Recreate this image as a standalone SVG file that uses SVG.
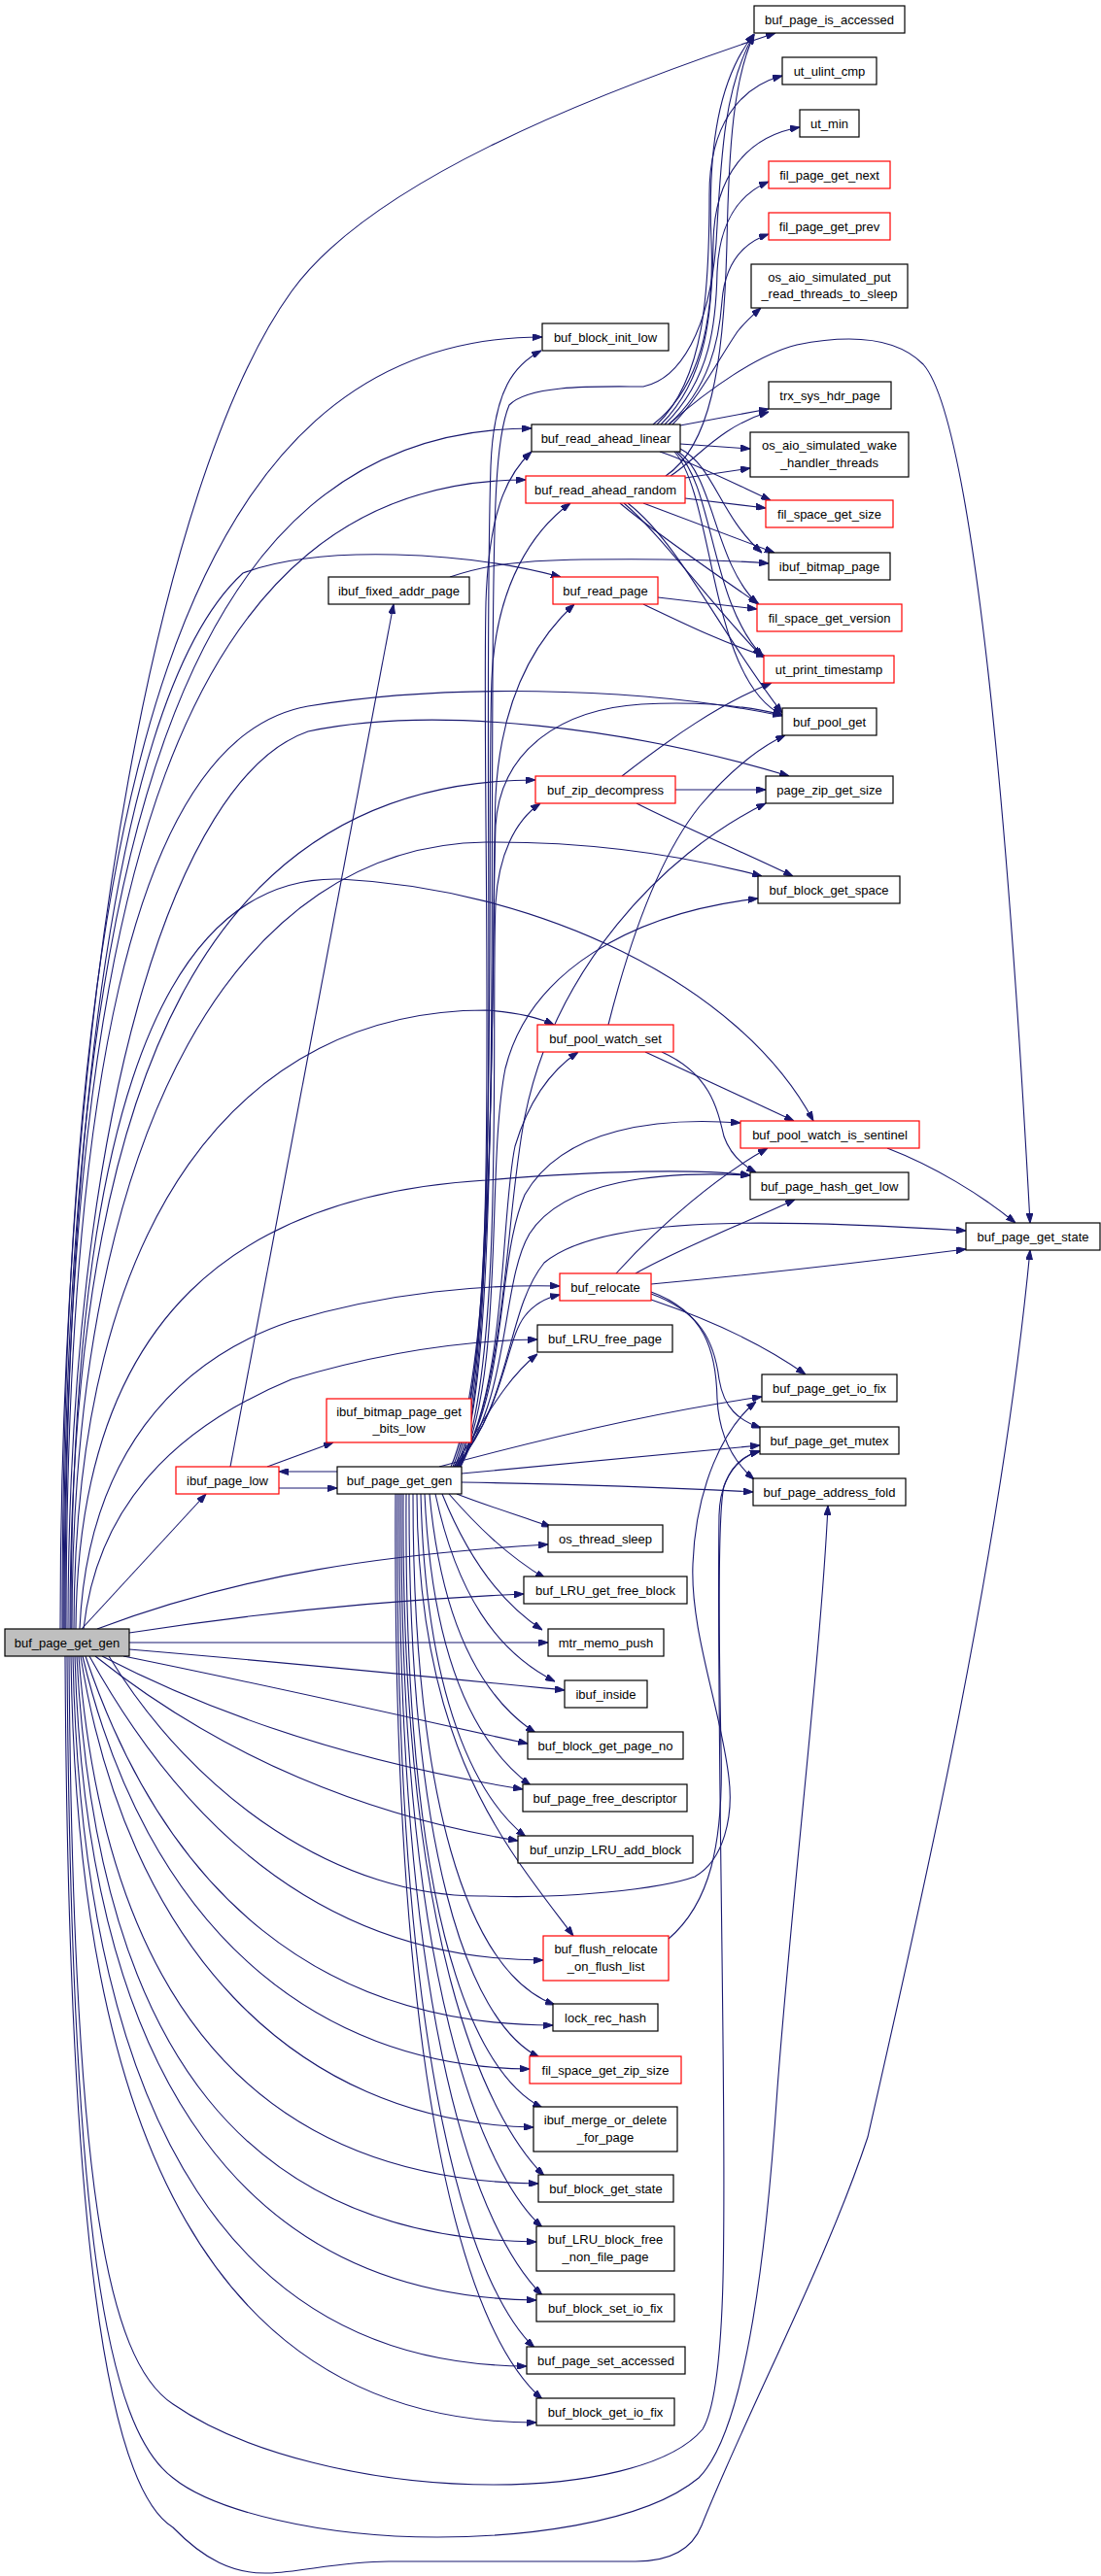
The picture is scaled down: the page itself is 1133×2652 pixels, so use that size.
<svg xmlns="http://www.w3.org/2000/svg" width="1133" height="2652" viewBox="0 0 1133 2652">
<style>
.n rect{fill:#fff;stroke:#000;stroke-width:1.2}
.r rect{fill:#fff;stroke:#f00;stroke-width:1.2}
.f rect{fill:#bfbfbf;stroke:#000;stroke-width:1.2}
text{font-family:"Liberation Sans",Arial,Helvetica,sans-serif;font-size:13px;text-anchor:middle;fill:#000}
#edges path{fill:none;stroke:#191970;stroke-width:1.1;marker-end:url(#ah)}
</style>
<defs>
<marker id="ah" viewBox="0 0 10 7" refX="10" refY="3.5" markerWidth="10" markerHeight="7" orient="auto" markerUnits="userSpaceOnUse">
<path d="M0,0 L10,3.5 L0,7 Z" fill="#191970" stroke="#191970" stroke-width="1"/>
</marker>
</defs>
<rect width="1133" height="2652" fill="#fff"/>
<g id="edges">
<path d="M62,1677 C62,1000 170,480 300,300 C380,189 600,100 798,34"/>
<path d="M64,1677 C64,812 188,347 558,347"/>
<path d="M65,1677 C65,874 186,441 547,441"/>
<path d="M66,1677 C66,908 185,494 541,494"/>
<path d="M67,1677 C67,1100 130,700 250,590 C330,560 480,568 577,594"/>
<path d="M68,1677 C68,1150 130,760 317,727 C450,705 650,705 805,737"/>
<path d="M70,1677 C70,1150 180,800 317,753 C450,725 650,750 812,799"/>
<path d="M72,1677 C72,1100 220,803 551,803"/>
<path d="M74,1677 C74,1150 250,870 500,867 C620,866 720,885 784,902"/>
<path d="M76,1677 C76,1250 250,1040 500,1040 C530,1042 555,1048 570,1055"/>
<path d="M73,1677 C73,1200 150,900 350,905 C550,915 760,1010 837,1154"/>
<path d="M78,1677 C80,1350 250,1230 500,1215 C620,1205 720,1203 772,1210"/>
<path d="M82,1677 C90,1500 180,1400 300,1360 C400,1330 500,1322 576,1324"/>
<path d="M86,1677 C100,1550 180,1470 300,1420 C400,1390 480,1380 553,1379"/>
<path d="M100,1677 C250,1620 400,1600 564,1590"/>
<path d="M84,1677 L212,1538"/>
<path d="M133,1681 C300,1655 450,1645 539,1641"/>
<path d="M133,1691 L564,1691"/>
<path d="M133,1698 C300,1712 480,1730 581,1740"/>
<path d="M127,1705 C300,1740 450,1775 543,1795"/>
<path d="M105,1705 C250,1780 400,1820 538,1842"/>
<path d="M98,1705 C230,1810 380,1870 533,1895"/>
<path d="M92,1705 C200,1900 350,2018 559,2018"/>
<path d="M88,1705 C170,1950 330,2085 569,2085"/>
<path d="M85,1705 C150,1980 320,2128 545,2130"/>
<path d="M83,1705 C130,2000 300,2185 549,2190"/>
<path d="M81,1705 C110,2080 280,2245 554,2248"/>
<path d="M79,1705 C100,2120 260,2305 552,2308"/>
<path d="M77,1705 C90,2150 260,2365 552,2368"/>
<path d="M75,1705 C85,2200 250,2435 542,2436"/>
<path d="M73,1705 C80,2250 250,2495 552,2494"/>
<path d="M112,1705 C200,1850 350,1955 500,1952 C580,1955 680,1945 715,1932 C745,1915 755,1870 750,1830 C742,1760 710,1680 713,1610 C716,1530 745,1470 778,1443"/>
<path d="M71,1705 C75,2250 110,2430 178,2475 C250,2525 380,2558 508,2558 C600,2558 690,2540 723,2501 C748,2460 746,2300 744,2100 C742,1900 738,1700 740,1560 C741,1520 760,1500 782,1494"/>
<path d="M69,1705 C73,2300 110,2500 178,2551 C220,2585 330,2612 450,2612 C530,2612 660,2600 719,2551 C770,2500 790,2300 800,2150 C815,1950 845,1700 852,1550"/>
<path d="M67,1705 C70,2300 110,2560 178,2602 C210,2635 240,2650 276,2649 C310,2648 350,2637 400,2637 L654,2637 C690,2637 712,2625 722,2600 C770,2480 850,2330 893,2200 C950,1950 1030,1600 1060,1287"/>
<path d="M470,1510 C512,1450 505,1000 507,700 C508,520 510,450 524,417 C545,395 620,398 662,398 C700,390 730,340 737,250 C742,160 745,90 776,35"/>
<path d="M472,1510 C520,1400 495,800 505,480 C508,400 530,375 557,361"/>
<path d="M470,1510 C518,1400 495,850 500,620 C503,530 520,490 547,465"/>
<path d="M468,1510 C516,1400 500,850 506,700 C510,600 550,545 587,518"/>
<path d="M466,1510 C514,1400 505,950 510,820 C515,720 550,660 591,622"/>
<path d="M464,1510 C512,1400 505,1000 510,850 C515,770 580,730 660,725 C720,722 770,727 805,736"/>
<path d="M474,1510 C520,1400 505,1050 510,930 C513,880 530,845 556,827"/>
<path d="M474,1510 C522,1420 520,1250 540,1150 C570,1000 680,880 788,827"/>
<path d="M473,1510 C520,1420 500,1200 520,1100 C545,1000 650,940 780,925"/>
<path d="M472,1510 C522,1430 515,1250 530,1180 C545,1130 570,1100 595,1083"/>
<path d="M471,1510 C524,1430 510,1300 540,1230 C580,1160 680,1150 762,1156"/>
<path d="M470,1510 C526,1440 515,1320 545,1270 C580,1215 680,1205 772,1210"/>
<path d="M469,1510 C528,1440 520,1350 560,1300 C620,1250 800,1255 994,1267"/>
<path d="M468,1510 C520,1450 520,1380 540,1355 C550,1342 562,1336 576,1333"/>
<path d="M467,1510 C500,1460 520,1420 553,1394"/>
<path d="M452,1510 C600,1470 700,1450 784,1438"/>
<path d="M475,1517 C600,1505 700,1495 782,1488"/>
<path d="M475,1526 C600,1528 700,1532 775,1536"/>
<path d="M347,1515 L287,1515"/>
<path d="M470,1538 C500,1550 540,1562 567,1572"/>
<path d="M462,1538 C490,1570 520,1600 561,1625"/>
<path d="M455,1538 C480,1600 515,1650 558,1678"/>
<path d="M448,1538 C470,1640 510,1700 571,1731"/>
<path d="M442,1538 C455,1680 500,1750 551,1784"/>
<path d="M437,1538 C445,1720 495,1800 546,1838"/>
<path d="M433,1538 C438,1750 490,1850 541,1891"/>
<path d="M429,1538 C430,1800 520,1900 590,1993"/>
<path d="M425,1538 C425,1850 480,2030 571,2064"/>
<path d="M421,1538 C420,1900 480,2080 555,2118"/>
<path d="M418,1538 C415,1950 480,2130 558,2170"/>
<path d="M415,1538 C412,2000 500,2180 560,2240"/>
<path d="M413,1538 C410,2050 500,2240 558,2293"/>
<path d="M411,1538 C408,2100 495,2300 558,2363"/>
<path d="M409,1538 C405,2150 490,2360 550,2417"/>
<path d="M407,1538 C403,2200 490,2410 558,2470"/>
<path d="M672,437 C720,400 735,330 732,250 C728,150 740,80 776,35"/>
<path d="M676,437 C725,390 730,300 730,200 C730,130 760,90 805,78"/>
<path d="M680,437 C728,390 733,320 734,250 C735,180 770,140 823,131"/>
<path d="M684,437 C732,390 737,330 738,280 C740,230 760,200 791,187"/>
<path d="M688,437 C730,400 740,350 743,310 C746,270 765,250 791,241"/>
<path d="M692,437 C720,410 745,360 760,340 C768,330 775,324 783,317"/>
<path d="M700,438 L791,421"/>
<path d="M700,457 L772,462"/>
<path d="M679,465 C710,475 750,495 793,515"/>
<path d="M700,462 C735,480 740,530 784,569"/>
<path d="M698,465 C735,490 735,580 780,622"/>
<path d="M696,465 C735,500 730,620 786,677"/>
<path d="M694,465 C735,510 730,700 805,736"/>
<path d="M688,437 C730,400 780,365 820,355 C870,345 920,345 950,375 C990,420 1030,700 1060,1259"/>
<path d="M685,490 C730,460 745,380 748,250 C750,150 755,80 776,36"/>
<path d="M690,490 C720,470 740,440 791,424"/>
<path d="M705,492 L772,482"/>
<path d="M705,513 L788,523"/>
<path d="M662,518 L797,569"/>
<path d="M638,518 C670,545 720,580 781,622"/>
<path d="M642,518 C680,550 730,620 784,676"/>
<path d="M646,518 C700,560 740,650 805,734"/>
<path d="M677,615 L779,627"/>
<path d="M662,622 C700,640 740,660 788,676"/>
<path d="M640,799 C690,760 740,725 794,703"/>
<path d="M695,813 L788,813"/>
<path d="M655,827 C700,850 760,875 816,902"/>
<path d="M463,594 C490,585 520,577 600,576 C680,575 740,576 791,580"/>
<path d="M626,1055 C650,960 680,880 720,830 C750,795 780,770 808,757"/>
<path d="M664,1083 L817,1154"/>
<path d="M681,1083 C730,1105 738,1140 745,1170 C752,1190 765,1200 778,1207"/>
<path d="M913,1182 C960,1200 1010,1230 1045,1259"/>
<path d="M634,1311 C680,1260 740,1210 790,1182"/>
<path d="M654,1311 C700,1285 760,1262 818,1235"/>
<path d="M670,1322 C800,1310 900,1298 994,1286"/>
<path d="M670,1338 C720,1355 780,1380 829,1415"/>
<path d="M670,1332 C720,1350 735,1380 740,1420 C745,1450 760,1462 783,1470"/>
<path d="M670,1330 C725,1350 737,1390 738,1440 C740,1480 755,1505 776,1523"/>
<path d="M287,1532 L347,1532"/>
<path d="M275,1510 L343,1485"/>
<path d="M237,1510 L405,622"/>
<path d="M688,1996 C730,1960 745,1900 742,1800 C740,1700 738,1560 745,1530 C752,1510 765,1498 782,1494"/>
</g>
<g id="n1" class="n"><rect x="776" y="6" width="155" height="28"/><text x="853.5" y="24.5">buf_page_is_accessed</text></g>
<g id="n2" class="n"><rect x="805" y="59" width="97" height="28"/><text x="853.5" y="77.5">ut_ulint_cmp</text></g>
<g id="n3" class="n"><rect x="823" y="113" width="61" height="28"/><text x="853.5" y="131.5">ut_min</text></g>
<g id="n4" class="r"><rect x="791" y="166" width="125" height="28"/><text x="853.5" y="184.5">fil_page_get_next</text></g>
<g id="n5" class="r"><rect x="791" y="219" width="125" height="28"/><text x="853.5" y="237.5">fil_page_get_prev</text></g>
<g id="n6" class="n"><rect x="773" y="272" width="161" height="45"/><text x="853.5" y="289.5">os_aio_simulated_put</text><text x="853.5" y="307">_read_threads_to_sleep</text></g>
<g id="n7" class="n"><rect x="791" y="393" width="126" height="28"/><text x="854" y="411.5">trx_sys_hdr_page</text></g>
<g id="n8" class="n"><rect x="772" y="445" width="163" height="46"/><text x="853.5" y="463">os_aio_simulated_wake</text><text x="853.5" y="480.5">_handler_threads</text></g>
<g id="n9" class="r"><rect x="788" y="515" width="131" height="28"/><text x="853.5" y="533.5">fil_space_get_size</text></g>
<g id="n10" class="n"><rect x="791" y="569" width="125" height="28"/><text x="853.5" y="587.5">ibuf_bitmap_page</text></g>
<g id="n11" class="r"><rect x="779" y="622" width="149" height="28"/><text x="853.5" y="640.5">fil_space_get_version</text></g>
<g id="n12" class="r"><rect x="786" y="675" width="134" height="28"/><text x="853" y="693.5">ut_print_timestamp</text></g>
<g id="n13" class="n"><rect x="805" y="729" width="97" height="28"/><text x="853.5" y="747.5">buf_pool_get</text></g>
<g id="n14" class="n"><rect x="788" y="799" width="131" height="28"/><text x="853.5" y="817.5">page_zip_get_size</text></g>
<g id="n15" class="n"><rect x="780" y="902" width="146" height="28"/><text x="853" y="920.5">buf_block_get_space</text></g>
<g id="n16" class="r"><rect x="762" y="1154" width="184" height="28"/><text x="854" y="1172.5">buf_pool_watch_is_sentinel</text></g>
<g id="n17" class="n"><rect x="772" y="1207" width="163" height="28"/><text x="853.5" y="1225.5">buf_page_hash_get_low</text></g>
<g id="n18" class="n"><rect x="994" y="1259" width="138" height="28"/><text x="1063" y="1277.5">buf_page_get_state</text></g>
<g id="n19" class="n"><rect x="784" y="1415" width="139" height="28"/><text x="853.5" y="1433.5">buf_page_get_io_fix</text></g>
<g id="n20" class="n"><rect x="782" y="1469" width="143" height="28"/><text x="853.5" y="1487.5">buf_page_get_mutex</text></g>
<g id="n21" class="n"><rect x="775" y="1522" width="157" height="28"/><text x="853.5" y="1540.5">buf_page_address_fold</text></g>
<g id="n22" class="n"><rect x="558" y="333" width="130" height="28"/><text x="623" y="351.5">buf_block_init_low</text></g>
<g id="n23" class="n"><rect x="547" y="437" width="153" height="28"/><text x="623.5" y="455.5">buf_read_ahead_linear</text></g>
<g id="n24" class="r"><rect x="541" y="490" width="164" height="28"/><text x="623" y="508.5">buf_read_ahead_random</text></g>
<g id="n25" class="r"><rect x="569" y="594" width="108" height="28"/><text x="623" y="612.5">buf_read_page</text></g>
<g id="n26" class="r"><rect x="551" y="799" width="144" height="28"/><text x="623" y="817.5">buf_zip_decompress</text></g>
<g id="n27" class="r"><rect x="553" y="1055" width="140" height="28"/><text x="623" y="1073.5">buf_pool_watch_set</text></g>
<g id="n28" class="r"><rect x="576" y="1311" width="94" height="28"/><text x="623" y="1329.5">buf_relocate</text></g>
<g id="n29" class="n"><rect x="553" y="1364" width="139" height="28"/><text x="622.5" y="1382.5">buf_LRU_free_page</text></g>
<g id="n30" class="n"><rect x="564" y="1570" width="118" height="28"/><text x="623" y="1588.5">os_thread_sleep</text></g>
<g id="n31" class="n"><rect x="539" y="1623" width="168" height="28"/><text x="623" y="1641.5">buf_LRU_get_free_block</text></g>
<g id="n32" class="n"><rect x="564" y="1677" width="119" height="28"/><text x="623.5" y="1695.5">mtr_memo_push</text></g>
<g id="n33" class="n"><rect x="581" y="1730" width="85" height="28"/><text x="623.5" y="1748.5">ibuf_inside</text></g>
<g id="n34" class="n"><rect x="543" y="1783" width="160" height="28"/><text x="623" y="1801.5">buf_block_get_page_no</text></g>
<g id="n35" class="n"><rect x="538" y="1837" width="169" height="28"/><text x="622.5" y="1855.5">buf_page_free_descriptor</text></g>
<g id="n36" class="n"><rect x="533" y="1890" width="180" height="28"/><text x="623" y="1908.5">buf_unzip_LRU_add_block</text></g>
<g id="n37" class="r"><rect x="559" y="1993" width="129" height="46"/><text x="623.5" y="2011">buf_flush_relocate</text><text x="623.5" y="2028.5">_on_flush_list</text></g>
<g id="n38" class="n"><rect x="569" y="2063" width="108" height="28"/><text x="623" y="2081.5">lock_rec_hash</text></g>
<g id="n39" class="r"><rect x="545" y="2117" width="156" height="28"/><text x="623" y="2135.5">fil_space_get_zip_size</text></g>
<g id="n40" class="n"><rect x="549" y="2169" width="148" height="46"/><text x="623" y="2187">ibuf_merge_or_delete</text><text x="623" y="2204.5">_for_page</text></g>
<g id="n41" class="n"><rect x="554" y="2239" width="139" height="28"/><text x="623.5" y="2257.5">buf_block_get_state</text></g>
<g id="n42" class="n"><rect x="552" y="2292" width="142" height="46"/><text x="623" y="2310">buf_LRU_block_free</text><text x="623" y="2327.5">_non_file_page</text></g>
<g id="n43" class="n"><rect x="552" y="2362" width="142" height="28"/><text x="623" y="2380.5">buf_block_set_io_fix</text></g>
<g id="n44" class="n"><rect x="542" y="2416" width="163" height="28"/><text x="623.5" y="2434.5">buf_page_set_accessed</text></g>
<g id="n45" class="n"><rect x="552" y="2469" width="142" height="28"/><text x="623" y="2487.5">buf_block_get_io_fix</text></g>
<g id="n46" class="f"><rect x="5" y="1677" width="128" height="28"/><text x="69" y="1695.5">buf_page_get_gen</text></g>
<g id="n47" class="r"><rect x="181" y="1510" width="106" height="28"/><text x="234" y="1528.5">ibuf_page_low</text></g>
<g id="n48" class="n"><rect x="347" y="1510" width="128" height="28"/><text x="411" y="1528.5">buf_page_get_gen</text></g>
<g id="n49" class="n"><rect x="338" y="594" width="145" height="28"/><text x="410.5" y="612.5">ibuf_fixed_addr_page</text></g>
<g id="n50" class="r"><rect x="336" y="1440" width="149" height="45"/><text x="410.5" y="1457.5">ibuf_bitmap_page_get</text><text x="410.5" y="1475">_bits_low</text></g>
</svg>
